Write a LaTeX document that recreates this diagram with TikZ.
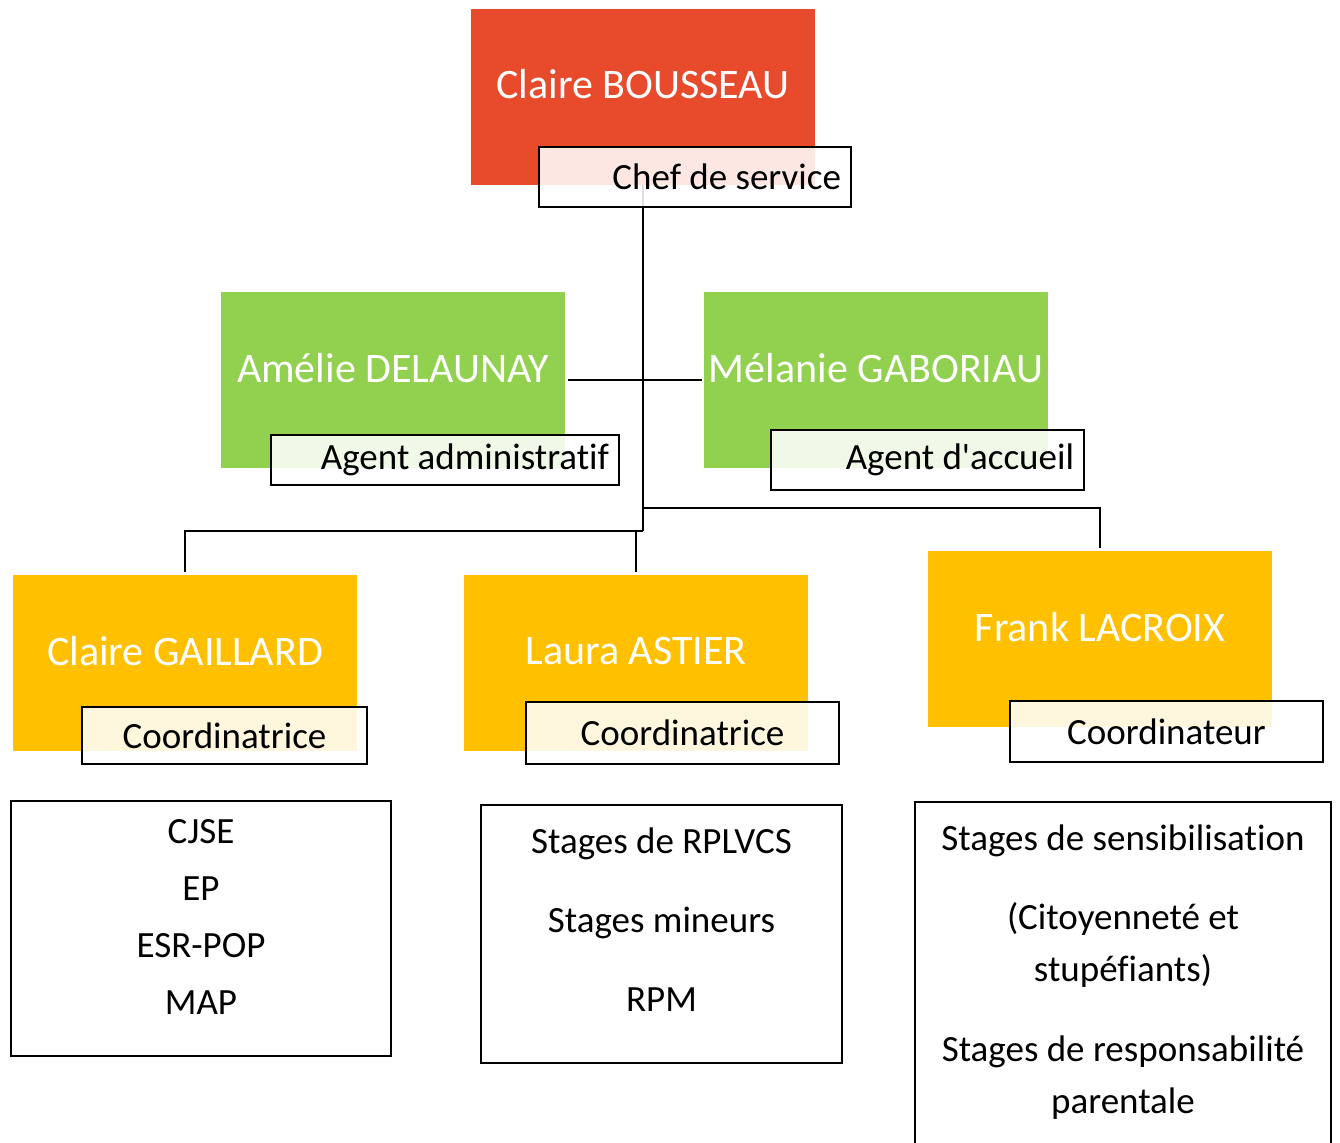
\documentclass[tikz,border=0pt]{standalone}
\usepackage{fontspec}
\setmainfont{Carlito}[Ligatures={CommonOff,TeXOff}]
\usepackage{xcolor}
\definecolor{chefred}{RGB}{232,75,44}
\definecolor{agentgreen}{RGB}{146,208,80}
\definecolor{coordorange}{RGB}{255,192,0}

\begin{document}
\begin{tikzpicture}[x=0.5pt,y=-0.5pt,
        namebox/.style={rectangle, minimum width=172pt, minimum height=88pt, inner sep=0pt},
        nametext/.style={text=white, font=\fontsize{21}{25}\selectfont, inner sep=0pt},
        rolebox/.style={rectangle, draw=black, line width=1.2pt, fill=white, fill opacity=0.87,
            draw opacity=1, text opacity=1, font=\fontsize{18.5}{22}\selectfont, inner ysep=0pt},
        roleright/.style={rolebox, inner xsep=5pt},
        rolemid/.style={rolebox, minimum width=#1},
        listbox/.style={rectangle, draw=black, line width=1.2pt, inner sep=0pt},
        listtext/.style={align=center, inner sep=0pt},
        link/.style={line width=1.3pt}]
        \useasboundingbox (0,0) rectangle (1340,1143);
        \coordinate (jl) at (643,531);
        \coordinate (jr) at (643,508);
        % chef de service
        \node[namebox, fill=chefred] (boss) at (643,97) {};
        \node[nametext] (bossname) at (643,84) {Claire BOUSSEAU};
        \draw[link] (boss.south) -- (jl);
        \node[roleright, minimum height=30pt] (chef) at (695,177) {\makebox[146pt][r]{Chef de service}};
        % agents
        \node[namebox, fill=agentgreen] (amelie) at (393,380) {};
        \node[nametext] (ameliename) at (393,368) {Amélie DELAUNAY};
        \node[roleright, minimum height=25pt] (admin) at (445,460) {\makebox[164pt][r]{Agent administratif}};
        \node[namebox, fill=agentgreen] (melanie) at (876,380) {};
        \node[nametext] (melaniename) at (876,368) {Mélanie GABORIAU};
        \node[roleright, minimum height=30pt] (accueil) at (927.5,460) {\makebox[146.5pt][r]{Agent d'accueil}};
        \draw[link, shorten <=1.5pt, shorten >=1pt] (amelie.east) -- (melanie.west);
        % coordinateurs
        \node[namebox, fill=coordorange] (gaillard) at (185,663) {};
        \node[nametext] (gaillardname) at (185,651) {Claire GAILLARD};
        \node[rolemid=142.5pt, minimum height=28.5pt] (coord1) at (224.5,735.5) {Coordinatrice};
        \node[namebox, fill=coordorange] (laura) at (636,663) {};
        \node[nametext] (lauraname) at (636,651) {Laura ASTIER};
        \node[rolemid=156.5pt, minimum height=31pt] (coord2) at (682.5,733) {Coordinatrice};
        \node[namebox, fill=coordorange] (frank) at (1100,639) {};
        \node[nametext] (frankname) at (1100,627) {Frank LACROIX};
        \node[rolemid=156.5pt, minimum height=30.5pt] (coord3) at (1166.5,731.5) {Coordinateur};
        \draw[link, shorten >=1.5pt] (jl) -| (gaillard.north);
        \draw[link, shorten >=1.5pt] (jl -| laura.north) -- (laura.north);
        \draw[link, shorten >=1.5pt] (jr) -| (frank.north);
        % missions
        \node[listbox, minimum width=190pt, minimum height=127.5pt] (list1) at (201,928.5) {};
        \node[listtext, font=\fontsize{18.5}{28.5}\selectfont] (list1txt) at (201,916.5)
            {CJSE\\EP\\ESR-POP\\MAP};
        \node[listbox, minimum width=180.5pt, minimum height=129pt] (list2) at (661.5,934) {};
        \node[listtext, font=\fontsize{18.5}{39.5}\selectfont] (list2txt) at (661.5,920)
            {Stages de RPLVCS\\Stages mineurs\\RPM};
        \node[listbox, minimum width=208pt, minimum height=189pt] (list3) at (1123,991) {};
        \node[listtext, font=\fontsize{18.5}{26}\selectfont] (list3txt) at (1123,972)
            {Stages de sensibilisation\\[13.5pt](Citoyenneté et\\stupéfiants)\\[14pt]Stages de responsabilité\\parentale};
\end{tikzpicture}
\end{document}
